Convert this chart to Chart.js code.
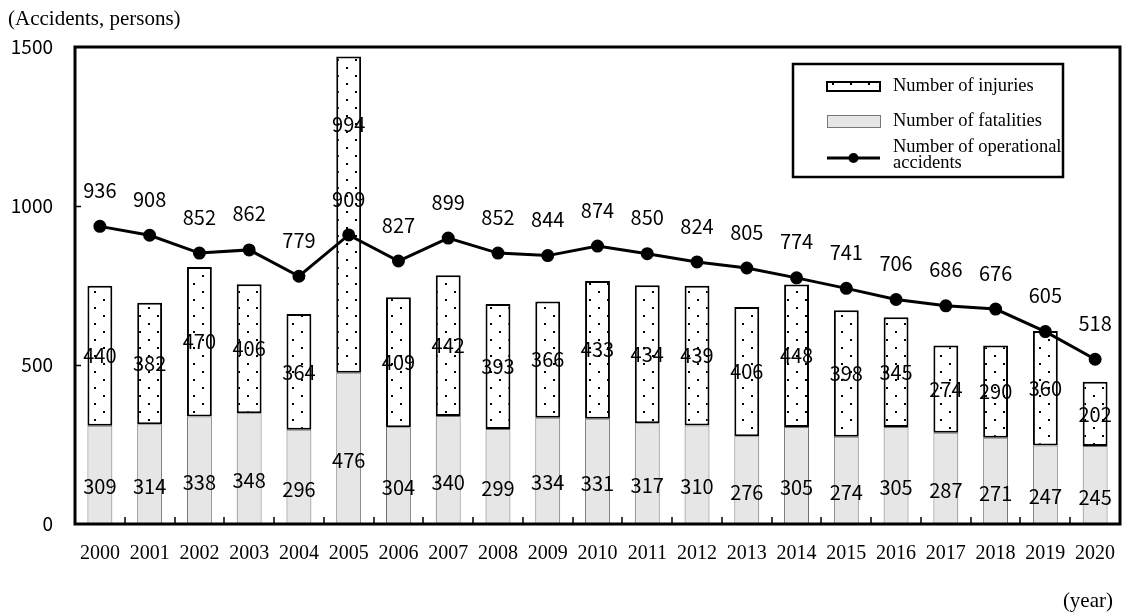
<!DOCTYPE html>
<html>
<head>
<meta charset="utf-8">
<script src="https://cdn.jsdelivr.net/npm/chart.js@4/dist/chart.umd.min.js"></script>
<style>
  html, body { margin: 0; padding: 0; background: #fff; }
  #wrap { width: 1122px; height: 615px; }
</style>
</head>
<body>
<div id="wrap"><canvas id="c" width="1122" height="615"></canvas></div>
<script>
// Railway operational accidents, 2000-2020
const years = ['2000','2001','2002','2003','2004','2005','2006','2007','2008','2009','2010',
               '2011','2012','2013','2014','2015','2016','2017','2018','2019','2020'];
const fatalities = [309, 314, 338, 348, 296, 476, 304, 340, 299, 334, 331,
                    317, 310, 276, 305, 274, 305, 287, 271, 247, 245];
const injuries   = [440, 382, 470, 406, 364, 994, 409, 442, 393, 366, 433,
                    434, 439, 406, 448, 398, 345, 274, 290, 360, 202];
const accidents  = [936, 908, 852, 862, 779, 909, 827, 899, 852, 844, 874,
                    850, 824, 805, 774, 741, 706, 686, 676, 605, 518];
const yTicks = [0, 500, 1000, 1500];

const NUM_FAMILY = '"DejaVu Sans ExtraLight", "Noto Sans CJK JP", sans-serif';
const NUM_FONT = '20px ' + NUM_FAMILY;
const SERIF = '"Liberation Serif", "DejaVu Serif", serif';

// dotted fill used for the injuries segment
function dotPattern() {
  const t = document.createElement('canvas');
  t.width = 18; t.height = 16;
  const g = t.getContext('2d');
  g.fillStyle = '#fff';
  g.fillRect(0, 0, 18, 16);
  g.fillStyle = '#000';
  g.fillRect(4, 3, 2, 2);
  g.fillRect(13, 11, 2, 2);
  return document.getElementById('c').getContext('2d').createPattern(t, 'repeat');
}

// frame, inward tick marks, value labels, legend and captions
const decor = {
  id: 'decor',
  afterDatasetsDraw(chart) {
    const { ctx, chartArea: a, scales: { x, y } } = chart;
    ctx.save();

    // value labels
    ctx.fillStyle = '#000';
    ctx.font = NUM_FONT;
    ctx.textAlign = 'center';
    ctx.textBaseline = 'middle';
    const fm = chart.getDatasetMeta(0), im = chart.getDatasetMeta(1), am = chart.getDatasetMeta(2);
    years.forEach((_, i) => {
      const fb = fm.data[i], ib = im.data[i], pt = am.data[i];
      const lineLabelY = pt.y - 36;
      let injY = (ib.y + ib.base) / 2;
      // keep the injuries label clear of the accidents label
      if (Math.abs(injY - lineLabelY) < 22) {
        injY = (ib.y + lineLabelY - 22) / 2 + 8;
      }
      ctx.fillText(String(fatalities[i]), fb.x, (fb.y + fb.base) / 2 + 12);
      ctx.fillText(String(injuries[i]), ib.x, injY);
      ctx.fillText(String(accidents[i]), pt.x, lineLabelY);
    });

    // plot frame
    ctx.strokeStyle = '#000';
    ctx.lineWidth = 3;
    ctx.strokeRect(a.left, a.top, a.right - a.left, a.bottom - a.top);

    // x tick marks between categories, pointing inward
    ctx.lineWidth = 2;
    ctx.beginPath();
    for (let i = 0; i < years.length - 1; i++) {
      const px = Math.round((x.getPixelForValue(i) + x.getPixelForValue(i + 1)) / 2);
      ctx.moveTo(px, a.bottom);
      ctx.lineTo(px, a.bottom - 7);
    }
    // y tick marks
    yTicks.slice(1, -1).forEach(v => {
      const py = Math.round(y.getPixelForValue(v)) + 0.5;
      ctx.moveTo(a.left, py);
      ctx.lineTo(a.left + 6, py);
    });
    ctx.lineWidth = 1.5;
    ctx.stroke();

    // legend
    const lx = 793, ly = 64, lw = 270, lh = 113;
    ctx.fillStyle = '#fff';
    ctx.fillRect(lx, ly, lw, lh);
    ctx.lineWidth = 2.5;
    ctx.strokeStyle = '#000';
    ctx.strokeRect(lx, ly, lw, lh);
    const ds = chart.data.datasets;
    const sx = 827, sw = 53, tx = 893;
    // injuries swatch
    ctx.fillStyle = ds[1].backgroundColor;
    ctx.fillRect(sx, 82, sw, 9);
    ctx.lineWidth = 2;
    ctx.strokeRect(sx, 82, sw, 9);
    // fatalities swatch
    ctx.fillStyle = ds[0].backgroundColor;
    ctx.fillRect(sx, 115, sw, 12);
    ctx.lineWidth = 1;
    ctx.strokeStyle = '#777';
    ctx.strokeRect(sx + 0.5, 115.5, sw, 12);
    // line swatch
    ctx.strokeStyle = '#000';
    ctx.lineWidth = 3;
    ctx.beginPath();
    ctx.moveTo(sx, 158); ctx.lineTo(sx + sw, 158);
    ctx.stroke();
    ctx.beginPath();
    ctx.arc(sx + sw / 2, 158, 5, 0, Math.PI * 2);
    ctx.fillStyle = '#000';
    ctx.fill();

    ctx.textAlign = 'left';
    ctx.font = '18.5px ' + SERIF;
    ctx.fillText(ds[1].label, tx, 86);
    ctx.fillText(ds[0].label, tx, 121);
    const words = ds[2].label.split(' ');
    ctx.fillText(words.slice(0, 3).join(' '), tx, 147);
    ctx.fillText(words.slice(3).join(' '), tx, 163);

    // captions
    ctx.font = '21px ' + SERIF;
    ctx.fillText('(Accidents, persons)', 8, 19);
    ctx.textAlign = 'right';
    ctx.fillText('(year)', 1113, 601);
    ctx.restore();
  }
};

new Chart(document.getElementById('c'), {
  data: {
    labels: years,
    datasets: [
      {
        type: 'bar',
        label: 'Number of fatalities',
        data: fatalities,
        backgroundColor: '#e6e6e6',
        borderColor: '#707070',
        borderWidth: 1,
        borderSkipped: false,
        stack: 'persons',
        order: 1
      },
      {
        type: 'bar',
        label: 'Number of injuries',
        data: injuries,
        backgroundColor: dotPattern(),
        borderColor: '#000',
        borderWidth: 2,
        borderSkipped: false,
        stack: 'persons',
        order: 1
      },
      {
        type: 'line',
        label: 'Number of operational accidents',
        data: accidents,
        borderColor: '#000',
        backgroundColor: '#000',
        borderWidth: 3,
        pointRadius: 5,
        pointHoverRadius: 5,
        pointBackgroundColor: '#000',
        tension: 0,
        stack: 'accidents',
        order: 0
      }
    ]
  },
  options: {
    responsive: false,
    animation: false,
    layout: { autoPadding: false, padding: { top: 47, right: 2, left: 0, bottom: 0 } },
    plugins: { legend: { display: false }, tooltip: { enabled: false } },
    datasets: { bar: { categoryPercentage: 1, barPercentage: 0.5 } },
    scales: {
      x: {
        stacked: true,
        grid: { display: false, drawTicks: false },
        border: { display: false },
        ticks: {
          color: '#000',
          font: { family: SERIF, size: 20 },
          padding: 18,
          maxRotation: 0,
          autoSkip: false
        },
        afterFit(s) { s.height = 91; s.paddingLeft = 0; s.paddingRight = 0; }
      },
      y: {
        stacked: true,
        min: 0,
        max: 1500,
        grid: { display: false, drawTicks: false },
        border: { display: false },
        afterBuildTicks(s) { s.ticks = yTicks.map(v => ({ value: v })); },
        ticks: {
          color: '#000',
          font: { family: NUM_FAMILY, size: 19 },
          padding: 22,
          callback: v => String(v)
        },
        afterFit(s) { s.width = 75; }
      }
    }
  },
  plugins: [decor]
});
</script>
</body>
</html>
